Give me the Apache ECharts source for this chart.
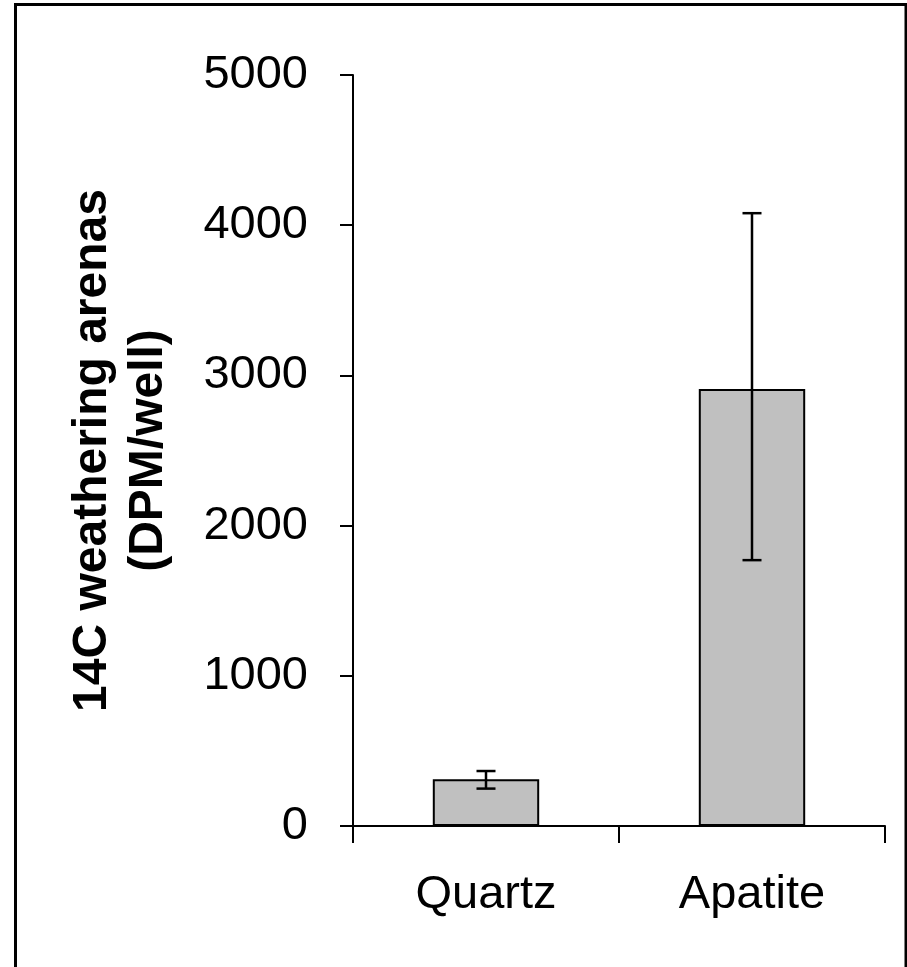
<!DOCTYPE html>
<html>
<head>
<meta charset="utf-8">
<script src="https://cdn.jsdelivr.net/npm/echarts@6/dist/echarts.min.js"></script>
<style>
  html, body { margin: 0; padding: 0; background: #fff; }
  #chart { width: 907px; height: 967px; }
</style>
</head>
<body>
<div id="chart"></div>
<script>
// data
const categories = ['Quartz', 'Apatite']
const means = [312, 2910]
const errLow = [249, 1770]
const errHigh = [366, 4080]

const chart = echarts.init(document.getElementById('chart'))

const errData = categories.map((c, i) => [i, errLow[i], errHigh[i]])

chart.setOption({
  animation: false,
  backgroundColor: '#fff',
  graphic: [
    {
      type: 'rect',
      shape: { x: 15.5, y: 4.5, width: 890.5, height: 1000 },
      style: { fill: 'none', stroke: '#000', lineWidth: 3 },
      z: 100,
    },
  ],
  grid: {
    left: 353,
    right: 22,
    top: 75,
    bottom: 141,
  },
  xAxis: {
    type: 'category',
    data: categories,
    boundaryGap: true,
    axisLine: { lineStyle: { color: '#000', width: 2 } },
    axisTick: { show: true, alignWithLabel: false, length: 17, lineStyle: { color: '#000', width: 2 } },
    axisLabel: {
      color: '#000',
      fontFamily: 'Liberation Sans, Arial, sans-serif',
      fontSize: 47,
      margin: 46,
    },
  },
  yAxis: {
    type: 'value',
    min: 0,
    max: 5000,
    interval: 1000,
    name: '14C weathering arenas\n(DPM/well)',
    nameLocation: 'middle',
    nameRotate: 90,
    nameGap: 176,
    nameTextStyle: {
      color: '#000',
      fontFamily: 'Liberation Sans, Arial, sans-serif',
      fontSize: 48,
      fontWeight: 'bold',
      lineHeight: 56,
    },
    axisLine: { show: true, lineStyle: { color: '#000', width: 2 } },
    axisTick: { show: true, length: 13, lineStyle: { color: '#000', width: 2 } },
    splitLine: { show: false },
    axisLabel: {
      color: '#000',
      fontFamily: 'Liberation Sans, Arial, sans-serif',
      fontSize: 47,
      margin: 45,
      formatter: (v) => String(v),
    },
  },
  series: [
    {
      type: 'bar',
      data: means,
      barWidth: '40%',
      itemStyle: { color: '#c0c0c0', borderColor: '#000', borderWidth: 2 },
    },
    {
      type: 'custom',
      data: errData,
      z: 10,
      renderItem: function (params, api) {
        const x = api.value(0)
        const lo = api.coord([x, api.value(1)])
        const hi = api.coord([x, api.value(2)])
        const half = 9.5
        const style = { stroke: '#000', lineWidth: 2.5 }
        return {
          type: 'group',
          children: [
            { type: 'line', shape: { x1: lo[0], y1: lo[1], x2: hi[0], y2: hi[1] }, style: style },
            { type: 'line', shape: { x1: lo[0] - half, y1: lo[1], x2: lo[0] + half, y2: lo[1] }, style: style },
            { type: 'line', shape: { x1: hi[0] - half, y1: hi[1], x2: hi[0] + half, y2: hi[1] }, style: style },
          ],
        }
      },
    },
  ],
})
</script>
</body>
</html>
